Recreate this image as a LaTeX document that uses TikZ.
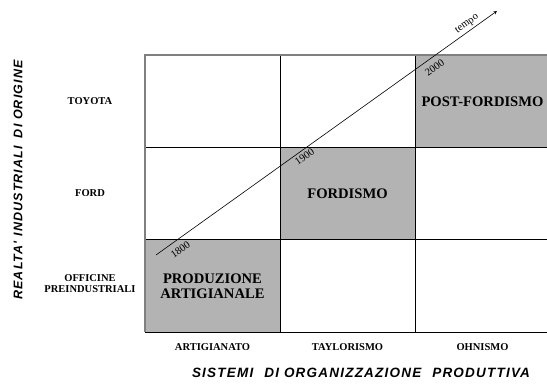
\documentclass[tikz,border=0pt]{standalone}
\usepackage{fontspec}
\setmainfont{Liberation Serif}
\newfontfamily\axisfont[LetterSpace=9,
  BoldItalicFont={Liberation Sans Bold Italic}]{Liberation Sans}
\usetikzlibrary{positioning, arrows.meta}
\tikzset{>=stealth}
\definecolor{cellgray}{HTML}{B3B3B3}
\definecolor{edgegray}{HTML}{808080}

\begin{document}
\begin{tikzpicture}[x=1pt, y=1pt,
    cell/.style={draw, line width=0.8pt, outer sep=0pt, inner sep=0pt,
      minimum width=135pt, minimum height=92.3pt, align=center,
      font=\bfseries\fontsize{14.6}{15}\selectfont},
    past/.style={cell, fill=cellgray},
    rowlab/.style={align=center, font=\bfseries\fontsize{10.5}{11}\selectfont},
    axislab/.style={font=\axisfont\bfseries\itshape\fontsize{13.5}{14}\selectfont},
    year/.style={sloped, font=\fontsize{10.5}{11}\selectfont}]
  \useasboundingbox (0,0) rectangle (547,387);
  \clip (0,0) rectangle (547,387);

  % griglia 3x3
  \node[past, anchor=south west] (c11) at (145,55) {PRODUZIONE\\ARTIGIANALE};
  \node[cell, right=0pt of c11] (c21) {};
  \node[cell, right=0pt of c21] (c31) {};
  \node[cell, above=0pt of c11] (c12) {};
  \node[past, right=0pt of c12] (c22) {FORDISMO};
  \node[cell, right=0pt of c22] (c32) {};
  \node[cell, above=0pt of c12] (c13) {};
  \node[cell, right=0pt of c13] (c23) {};
  \node[past, right=0pt of c23] (c33) {POST-FORDISMO};
  \draw [edgegray, line width=1.2pt] (c11.south west) -- (c13.north west) -- (c33.north east);

  % etichette di righe e colonne
  \path (c13.west) ++(-55,0) node[rowlab] (toyota) {TOYOTA};
  \path (c12.west) ++(-55,0) node[rowlab] (ford) {FORD};
  \path (c11.west) ++(-55,2) node[rowlab] (officine) {OFFICINE\\PREINDUSTRIALI};
  \path (c11.south) ++(0,-15) node[rowlab] (artigianato) {ARTIGIANATO};
  \path (c21.south) ++(0,-15) node[rowlab] (taylorismo) {TAYLORISMO};
  \path (c31.south) ++(0,-15) node[rowlab] (ohnismo) {OHNISMO};

  \node[axislab] (sistemi) at (361,14)
    {SISTEMI\hspace{11pt}DI\ ORGANIZZAZIONE\hspace{11pt}PRODUTTIVA};
  \node[axislab, font=\axisfont\bfseries\itshape\fontsize{12.5}{13}\selectfont, rotate=90]
    (realta) at (18,207) {REALTA'\ INDUSTRIALI\hspace{8pt}DI\ ORIGINE};

  % freccia del tempo
  \coordinate (t0) at (156,132);
  \coordinate (t1) at (497,376);
  \draw [->, line width=0.6pt] (t0) -- (t1)
    node[year, below=3pt, pos=.054] (y1800) {1800}
    node[year, below=-1pt, pos=.425] (y1900) {1900}
    node[year, below=3pt, pos=.80] (y2000) {2000}
    node[year, above=-1pt, pos=.924] (tempo) {tempo};
\end{tikzpicture}
\end{document}
